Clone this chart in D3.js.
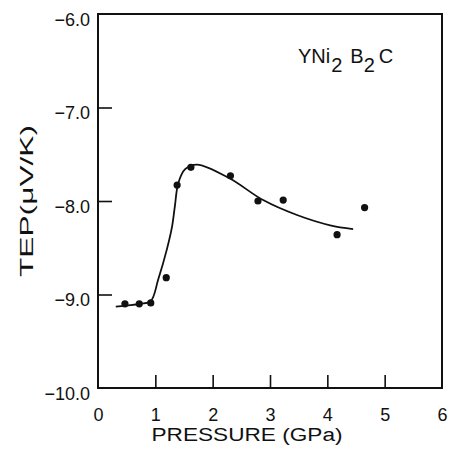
<!DOCTYPE html>
<html>
<head>
<meta charset="utf-8">
<script src="https://cdn.jsdelivr.net/npm/d3@7"></script>
<style>
  html, body { margin: 0; padding: 0; background: #fff; }
  text { font-family: "Liberation Sans", Arial, sans-serif; fill: #111; }
</style>
</head>
<body>
<svg id="chart" width="450" height="449"></svg>
<script>
// Data
const pressure = [0.47, 0.72, 0.92, 1.19, 1.38, 1.62, 2.31, 2.79, 3.23, 4.17, 4.65];
const tep      = [-9.10, -9.10, -9.09, -8.82, -7.83, -7.64, -7.73, -8.00, -7.99, -8.36, -8.07];
const fitP   = [0.31, 0.73, 0.92, 1.05, 1.20, 1.29, 1.34, 1.40, 1.52, 1.73, 2.30, 2.88, 3.47, 4.05, 4.45];
const fitTep = [-9.13, -9.10, -9.07, -8.84, -8.52, -8.28, -8.06, -7.81, -7.66, -7.61, -7.76, -7.99, -8.15, -8.26, -8.30];
const xTicks = [0, 1, 2, 3, 4, 5, 6];
const yTicks = [-6, -7, -8, -9, -10];
const yTickLabels = ["\u22126.0", "\u22127.0", "\u22128.0", "\u22129.0", "\u221210.0"];

const svg = d3.select("#chart");
const x = d3.scaleLinear().domain([0, 6]).range([98, 442]);
const y = d3.scaleLinear().domain([-10, -6]).range([388, 14]);

// frame
svg.append("rect")
  .attr("x", x(0)).attr("y", y(-6))
  .attr("width", x(6) - x(0)).attr("height", y(-10) - y(-6))
  .attr("fill", "none").attr("stroke", "#111").attr("stroke-width", 2);

// x axis ticks (inward)
const xAxis = d3.axisBottom(x).tickValues(xTicks).tickSizeInner(-13).tickSizeOuter(0)
  .tickPadding(20).tickFormat(d3.format("d"));
const gx = svg.append("g").attr("transform", `translate(0,${y(-10)})`).call(xAxis);
gx.select(".domain").remove();
gx.selectAll(".tick line").attr("stroke", "#111").attr("stroke-width", 1.6)
  .filter(d => d === 0 || d === 6).remove();
gx.selectAll(".tick text").attr("font-size", 18).attr("fill", "#111")
  .attr("font-family", "Liberation Sans, Arial, sans-serif");

// y axis ticks (inward)
const yAxis = d3.axisLeft(y).tickValues(yTicks).tickSizeInner(-14).tickSizeOuter(0)
  .tickPadding(22).tickFormat((d, i) => yTickLabels[i]);
const gy = svg.append("g").attr("transform", `translate(${x(0)},0)`).call(yAxis);
gy.select(".domain").remove();
gy.selectAll(".tick line").attr("stroke", "#111").attr("stroke-width", 1.6)
  .filter(d => d === -6 || d === -10).remove();
gy.selectAll(".tick text").attr("font-size", 18).attr("fill", "#111")
  .attr("font-family", "Liberation Sans, Arial, sans-serif")
  .attr("dy", "0.62em").attr("x", -8);

// fitted curve
const line = d3.line().x(d => x(d[0])).y(d => y(d[1])).curve(d3.curveCatmullRom.alpha(0.5));
svg.append("path")
  .datum(fitP.map((p, i) => [p, fitTep[i]]))
  .attr("d", line).attr("fill", "none").attr("stroke", "#111").attr("stroke-width", 1.8);

// points
svg.selectAll("circle.pt").data(pressure.map((p, i) => [p, tep[i]]))
  .enter().append("circle").attr("class", "pt")
  .attr("cx", d => x(d[0])).attr("cy", d => y(d[1])).attr("r", 3.6).attr("fill", "#111");

// axis titles
svg.append("text").attr("x", 247).attr("y", 441).attr("text-anchor", "middle")
  .attr("font-size", 18).attr("fill", "#111")
  .attr("textLength", 191).attr("lengthAdjust", "spacingAndGlyphs")
  .text("PRESSURE (GPa)");
svg.append("text").attr("transform", "translate(33,201) rotate(-90)")
  .attr("text-anchor", "middle").attr("font-size", 18).attr("fill", "#111")
  .attr("textLength", 152).attr("lengthAdjust", "spacingAndGlyphs")
  .text("TEP(\u03bcV/K)");

// compound label
const lab = svg.append("text").attr("x", 298).attr("y", 63).attr("font-size", 20).attr("fill", "#111");
lab.append("tspan").text("YNi");
lab.append("tspan").attr("dy", 9).attr("dx", 1).text("2");
lab.append("tspan").attr("dy", -9).attr("dx", 8).text("B");
lab.append("tspan").attr("dy", 9).text("2");
lab.append("tspan").attr("dy", -9).attr("dx", 4).text("C");
</script>
</body>
</html>
